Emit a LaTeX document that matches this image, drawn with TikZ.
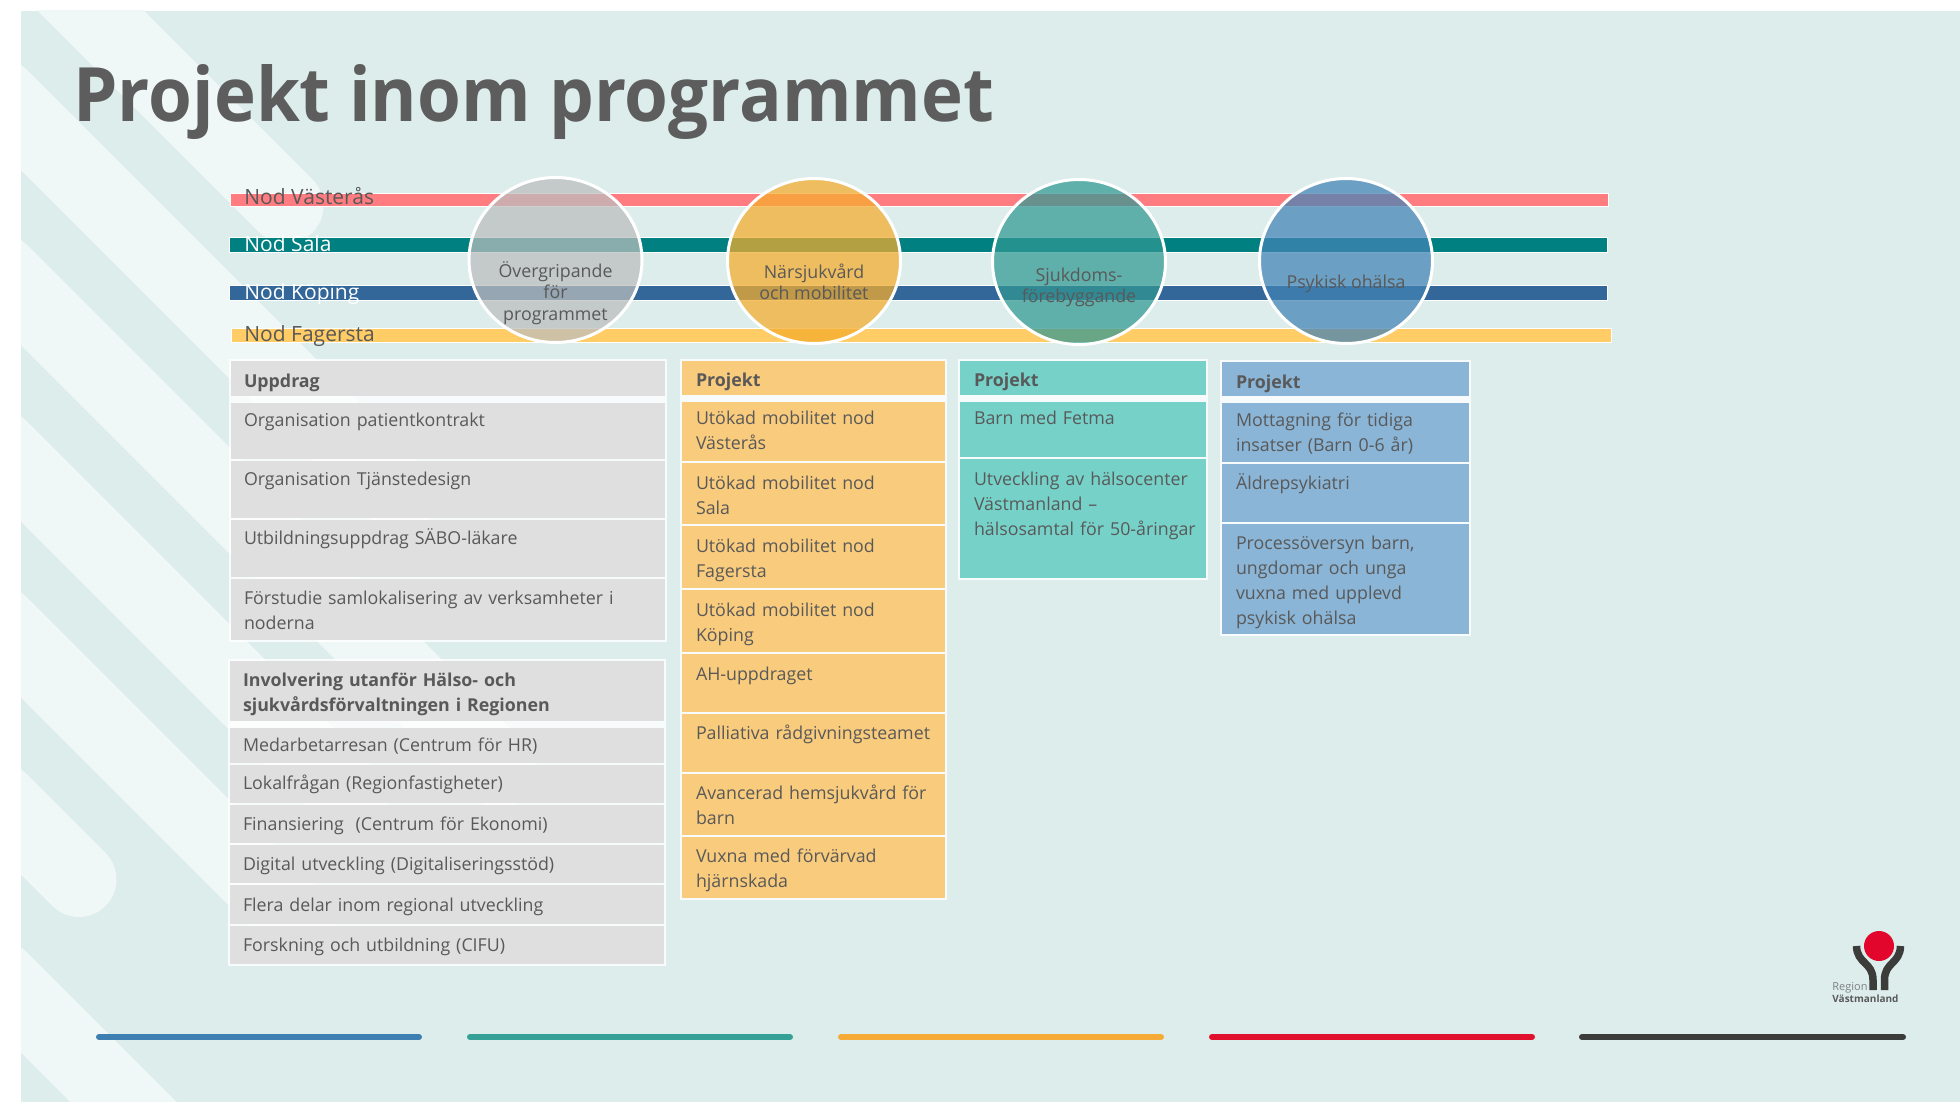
\documentclass[tikz,border=0pt]{standalone}
\usepackage{fontspec}
\setmainfont{Open Sans}
\usetikzlibrary{positioning, shapes.geometric}

\definecolor{slidebg}{HTML}{DCEDEB}
\definecolor{stripelight}{HTML}{F0F7F7}
\definecolor{textgray}{HTML}{595959}
\definecolor{cellgray}{HTML}{DFDFDF}
\definecolor{cellorange}{HTML}{F9CB7C}
\definecolor{cellteal}{HTML}{76D2C9}
\definecolor{cellblue}{HTML}{8AB5D6}
\newcommand{\cellfont}{\fontsize{8.9pt}{12.5pt}\selectfont}

\begin{document}
\begin{tikzpicture}
    [
        x=0.5pt, y=-0.5pt,
        stripe_line/.style={line width=37.5pt, line cap=round, color=stripelight},
        foot_line/.style={line width=3pt, line cap=round},
        table_back/.style={fill=white, fill opacity=0.8},
        nod_bar/.style={rectangle, draw=white, line width=0.5pt, inner sep=0pt, outer sep=0pt, minimum width=689pt},
        nod_label/.style={anchor=base west, inner sep=0pt, font=\fontsize{10.5pt}{12pt}\selectfont},
        topic_node/.style={ellipse, draw=white, line width=1.5pt, inner sep=0pt, outer sep=0pt, fill opacity=0.73, minimum width=86.5pt, minimum height=82.5pt},
        topic_text/.style={anchor=base, inner sep=0pt, text=textgray, font=\cellfont},
        cell_box/.style={rectangle, inner ysep=0pt, outer sep=0pt, align=left, text=textgray, font=\cellfont},
        head_cell/.style={font=\cellfont\bfseries},
        row_h/.style 2 args={text height=#1, text depth=#2},
        gray_cell/.style={cell_box, fill=cellgray, text width=204pt, inner xsep=6.5pt},
        orange_cell/.style={cell_box, fill=cellorange, text width=117.5pt, inner xsep=7pt},
        teal_cell/.style={cell_box, fill=cellteal, text width=109pt, inner xsep=7pt},
        blue_cell/.style={cell_box, fill=cellblue, text width=109.5pt, inner xsep=7pt},
    ]
        \useasboundingbox (0,0) rectangle (1960,1102);
        \fill[slidebg] (21,11) rectangle (1960,1102);

        % diagonal stripes behind everything
        \begin{scope}
            \clip (21,11) rectangle (1960,1102);
            \draw[stripe_line] (0,-80) -- (286,206);
            \draw[stripe_line] (0,96) -- (400,496);
            \draw[stripe_line] (0,271) -- (500,771);
            \draw[stripe_line] (0,447.5) -- (350,797.5);
            \draw[stripe_line] (0,623.5) -- (300,923.5);
            \draw[stripe_line] (0,800.5) -- (79,879.5);
            \draw[stripe_line] (0,978.5) -- (200,1178.5);
        \end{scope}

        \node[anchor=base west, inner sep=0pt, text={rgb,255:red,93;green,93;blue,93}, font=\fontsize{37.5pt}{40pt}\selectfont\bfseries] (title) at (73,122) {\scalebox{0.945}[1]{Projekt inom programmet}} ;

        % the four bars
        \node[nod_bar, fill={rgb,255:red,255;green,124;blue,128}, minimum height=6.5pt, anchor=north west] (bar_vasteras) at (230,193) {} ;
        \node[nod_bar, fill={rgb,255:red,0;green,128;blue,128}, minimum height=7.5pt, anchor=north west] (bar_sala) at (229,237) {} ;
        \node[nod_bar, fill={rgb,255:red,51;green,102;blue,153}, minimum height=7.5pt, anchor=north west] (bar_koping) at (229,285) {} ;
        \node[nod_bar, fill={rgb,255:red,255;green,204;blue,102}, minimum height=7pt, minimum width=690pt, anchor=north west] (bar_fagersta) at (231,328) {} ;
        \node[nod_label, text=textgray] (lab_vasteras) at (244,205) {Nod Västerås} ;
        \node[nod_label, text=white] (lab_sala) at (244,251) {Nod Sala} ;
        \node[nod_label, text=white] (lab_koping) at (244,299) {Nod Köping} ;
        \node[nod_label, text=textgray] (lab_fagersta) at (244,341) {Nod Fagersta} ;

        % the four topics
        \node[topic_node, fill={rgb,255:red,188;green,190;blue,190}] (over) at (555.5,260) {} ;
        \node[topic_node, fill={rgb,255:red,245;green,172;blue,44}] (nara) at (814,261) {} ;
        \node[topic_node, fill={rgb,255:red,49;green,152;blue,146}] (sjuk) at (1079,262) {} ;
        \node[topic_node, fill={rgb,255:red,66;green,131;blue,181}] (psyk) at (1346,261) {} ;
        \node[topic_text] (over_a) at (555.5,277) {Övergripande} ;
        \node[topic_text] (over_b) at (555.5,298) {för} ;
        \node[topic_text] (over_c) at (555.5,320) {programmet} ;
        \node[topic_text] (nara_a) at (814,278) {Närsjukvård} ;
        \node[topic_text] (nara_b) at (814,299) {och mobilitet} ;
        \node[topic_text] (sjuk_a) at (1079,281) {Sjukdoms-} ;
        \node[topic_text] (sjuk_b) at (1079,302) {förebyggande} ;
        \node[topic_text] (psyk_a) at (1346,288) {Psykisk ohälsa} ;

        % white behind the tables
        \fill[table_back] (229,359) rectangle (667,642);
        \fill[table_back] (228,659) rectangle (666,966);
        \fill[table_back] (680,359) rectangle (947,900);
        \fill[table_back] (958,359) rectangle (1208,580);
        \fill[table_back] (1220,360) rectangle (1471,636);

        \node[gray_cell, head_cell, row_h={13pt}{4.5pt}, anchor=north west] (upp0) at (231,361) {Uppdrag} ;
        \node[gray_cell, row_h={11.5pt}{16.5pt}] (upp1) [below = 3.5pt of upp0] {Organisation patientkontrakt} ;
        \node[gray_cell, row_h={12pt}{16.5pt}] (upp2) [below = 1pt of upp1] {Organisation Tjänstedesign} ;
        \node[gray_cell, row_h={12pt}{16.5pt}] (upp3) [below = 1pt of upp2] {Utbildningsuppdrag SÄBO-läkare} ;
        \node[gray_cell, row_h={12.5pt}{18pt}] (upp4) [below = 1pt of upp3] {Förstudie samlokalisering av verksamheter i\\noderna} ;

        \node[gray_cell, head_cell, row_h={12.5pt}{17.5pt}, anchor=north west] (inv0) at (230,661) {Involvering utanför Hälso- och\\sjukvårdsförvaltningen i Regionen} ;
        \node[gray_cell, row_h={11.5pt}{6pt}] (inv1) [below = 3.5pt of inv0] {Medarbetarresan (Centrum för HR)} ;
        \node[gray_cell, row_h={12pt}{7pt}] (inv2) [below = 1pt of inv1] {Lokalfrågan (Regionfastigheter)} ;
        \node[gray_cell, row_h={12.5pt}{6.5pt}] (inv3) [below = 1pt of inv2] {Finansiering~ (Centrum för Ekonomi)} ;
        \node[gray_cell, row_h={12.5pt}{6.5pt}] (inv4) [below = 1pt of inv3] {Digital utveckling (Digitaliseringsstöd)} ;
        \node[gray_cell, row_h={13pt}{6.5pt}] (inv5) [below = 1pt of inv4] {Flera delar inom regional utveckling} ;
        \node[gray_cell, row_h={12.5pt}{6.5pt}] (inv6) [below = 1pt of inv5] {Forskning och utbildning (CIFU)} ;

        \node[orange_cell, head_cell, row_h={12.5pt}{4.5pt}, anchor=north west] (nar0) at (682,361) {Projekt} ;
        \node[orange_cell, row_h={11pt}{18.5pt}] (nar1) [below = 3.5pt of nar0] {Utökad mobilitet nod\\Västerås} ;
        \node[orange_cell, row_h={13pt}{17.5pt}] (nar2) [below = 1pt of nar1] {Utökad mobilitet nod\\Sala} ;
        \node[orange_cell, row_h={13pt}{18pt}] (nar3) [below = 1pt of nar2] {Utökad mobilitet nod\\Fagersta} ;
        \node[orange_cell, row_h={13pt}{18pt}] (nar4) [below = 1pt of nar3] {Utökad mobilitet nod\\Köping} ;
        \node[orange_cell, row_h={13pt}{16pt}] (nar5) [below = 1pt of nar4] {AH-uppdraget} ;
        \node[orange_cell, row_h={12.5pt}{16.5pt}] (nar6) [below = 1pt of nar5] {Palliativa rådgivningsteamet} ;
        \node[orange_cell, row_h={12.5pt}{18pt}] (nar7) [below = 1pt of nar6] {Avancerad hemsjukvård för\\barn} ;
        \node[orange_cell, row_h={12.5pt}{18pt}] (nar8) [below = 1pt of nar7] {Vuxna med förvärvad\\hjärnskada} ;

        \node[teal_cell, head_cell, row_h={12.5pt}{4.5pt}, anchor=north west] (sju0) at (960,361) {Projekt} ;
        \node[teal_cell, row_h={11pt}{16.5pt}] (sju1) [below = 3.5pt of sju0] {Barn med Fetma} ;
        \node[teal_cell, row_h={13pt}{46.5pt}] (sju2) [below = 1pt of sju1] {Utveckling av hälsocenter\\Västmanland --\\\mbox{hälsosamtal för 50-åringar}} ;

        \node[blue_cell, head_cell, row_h={13pt}{4pt}, anchor=north west] (psy0) at (1222,362) {Projekt} ;
        \node[blue_cell, row_h={11.5pt}{18pt}] (psy1) [below = 3.5pt of psy0] {Mottagning för tidiga\\insatser (Barn 0-6 år)} ;
        \node[blue_cell, row_h={12.5pt}{16.5pt}] (psy2) [below = 1pt of psy1] {Äldrepsykiatri} ;
        \node[blue_cell, row_h={12.5pt}{42.5pt}] (psy3) [below = 1pt of psy2] {Processöversyn barn,\\ungdomar och unga\\vuxna med upplevd\\psykisk ohälsa} ;

        % foot lines
        \draw[foot_line, color={rgb,255:red,62;green,127;blue,177}] (99,1037) -- (419,1037);
        \draw[foot_line, color={rgb,255:red,53;green,160;blue,150}] (470,1037) -- (790,1037);
        \draw[foot_line, color={rgb,255:red,245;green,171;blue,53}] (841,1037) -- (1161,1037);
        \draw[foot_line, color={rgb,255:red,225;green,17;blue,46}] (1212,1037) -- (1532,1037);
        \draw[foot_line, color={rgb,255:red,60;green,60;blue,59}] (1582,1037) -- (1903,1037);

        % logo
        \node[circle, fill={rgb,255:red,226;green,6;blue,44}, inner sep=0pt, minimum size=15pt] (logo_ball) at (1879,946) {} ;
        \draw[line width=3.75pt, color={rgb,255:red,60;green,60;blue,59}] (1856.5,946) .. controls (1857,964) and (1873,962) .. (1873,980) -- (1873,990);
        \draw[line width=3.75pt, color={rgb,255:red,60;green,60;blue,59}] (1900.5,946) .. controls (1900,964) and (1884.5,962) .. (1884.5,980) -- (1884.5,990);
        \node[anchor=base west, inner sep=0pt, text=gray, font=\fontsize{5.5pt}{6pt}\selectfont] (logo_a) at (1832,990) {Region} ;
        \node[anchor=base west, inner sep=0pt, text=textgray, font=\fontsize{5pt}{6pt}\selectfont\bfseries] (logo_b) at (1832,1002) {Västmanland} ;
    \end{tikzpicture}
\end{document}
